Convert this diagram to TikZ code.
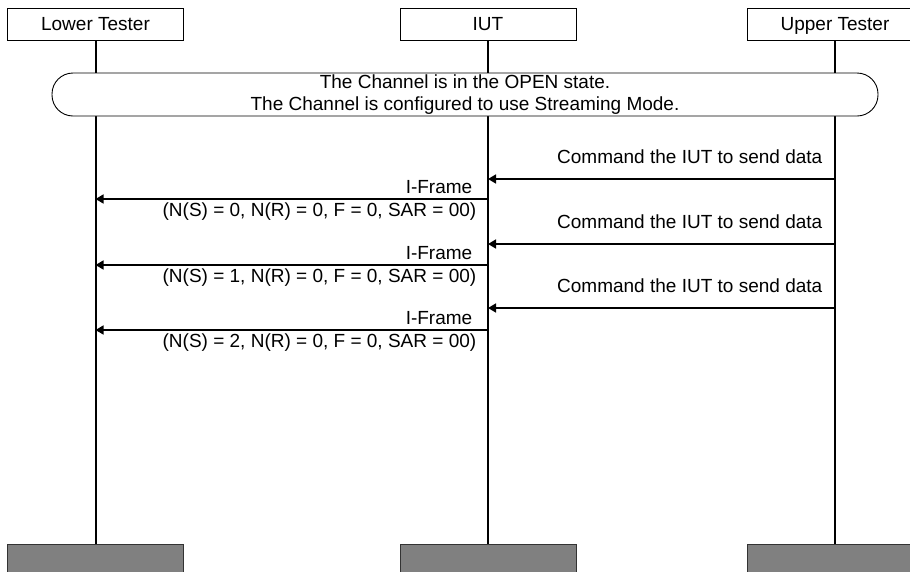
\documentclass[tikz,border=0pt]{standalone}
\usepackage{fontspec}
\setmainfont{Liberation Sans}
\usetikzlibrary{positioning,arrows.meta,backgrounds}
\newcommand{\msgfont}{\fontsize{19}{22}\selectfont}

\begin{document}
\begin{tikzpicture}[x=1pt,y=-1pt,
  head/.style={draw,line width=0.9pt,minimum width=176pt,minimum height=32pt,inner sep=0pt,text height=13.6pt,text depth=0pt,font=\msgfont},
  foot/.style={draw=black!80,line width=0.9pt,fill=black!50,minimum width=176pt,minimum height=32pt},
  state/.style={draw,line width=0.9pt,fill=white,rounded corners=21pt,minimum width=826pt,minimum height=43pt,inner sep=0pt,align=center,font=\msgfont},
  life/.style={line width=2pt},
  msg/.style={-{Triangle[length=8pt,width=9pt]},line width=1.5pt},
  lbl/.style={font=\msgfont,inner sep=0pt}]
  \useasboundingbox (0,0) rectangle (910,571);
  % instances
  \node[head] (lt) at (95.5,24) {Lower Tester};
  \node[head] (iut) at (488,24) {IUT};
  \node[head] (ut) at (835,24) {Upper Tester};
  \node[foot] (ltf) at (95.5,560) {};
  \node[foot] (iutf) at (488,560) {};
  \node[foot] (utf) at (835,560) {};
  % precondition
  \node[state] (open) at (465,94.5) {The Channel is in the OPEN state.\\The Channel is configured to use Streaming Mode.};
  \begin{scope}[on background layer]
    \draw[life] (lt) -- (ltf);
    \draw[life] (iut) -- (iutf);
    \draw[life] (ut) -- (utf);
  \end{scope}
  % message ends
  \coordinate (ua) at (ut |- 0,179);
  \coordinate (ia) at (iut |- 0,179);
  \coordinate (ib) at (iut |- 0,199);
  \coordinate (la) at (lt |- 0,199);
  \coordinate (uc) at (ut |- 0,244);
  \coordinate (ic) at (iut |- 0,244);
  \coordinate (id) at (iut |- 0,265);
  \coordinate (ld) at (lt |- 0,265);
  \coordinate (ue) at (ut |- 0,308);
  \coordinate (ie) at (iut |- 0,308);
  \coordinate (if) at (iut |- 0,330);
  \coordinate (lf) at (lt |- 0,330);
  % messages
  \draw[msg] (ua) -- (ia) node[lbl,pos=0,anchor=base east,xshift=-12pt,yshift=16pt] (c1) {Command the IUT to send data};
  \draw[msg] (ib) -- (la) node[lbl,pos=0,anchor=base east,xshift=-15pt,yshift=6pt] (f1) {I-Frame}
    node[lbl,pos=0,anchor=north east,xshift=-11pt,yshift=-3pt] (p1) {(N(S) = 0, N(R) = 0, F = 0, SAR = 00)};
  \draw[msg] (uc) -- (ic) node[lbl,pos=0,anchor=base east,xshift=-12pt,yshift=16pt] (c2) {Command the IUT to send data};
  \draw[msg] (id) -- (ld) node[lbl,pos=0,anchor=base east,xshift=-15pt,yshift=6pt] (f2) {I-Frame}
    node[lbl,pos=0,anchor=north east,xshift=-11pt,yshift=-3pt] (p2) {(N(S) = 1, N(R) = 0, F = 0, SAR = 00)};
  \draw[msg] (ue) -- (ie) node[lbl,pos=0,anchor=base east,xshift=-12pt,yshift=16pt] (c3) {Command the IUT to send data};
  \draw[msg] (if) -- (lf) node[lbl,pos=0,anchor=base east,xshift=-15pt,yshift=6pt] (f3) {I-Frame}
    node[lbl,pos=0,anchor=north east,xshift=-11pt,yshift=-3pt] (p3) {(N(S) = 2, N(R) = 0, F = 0, SAR = 00)};
\end{tikzpicture}
\end{document}
